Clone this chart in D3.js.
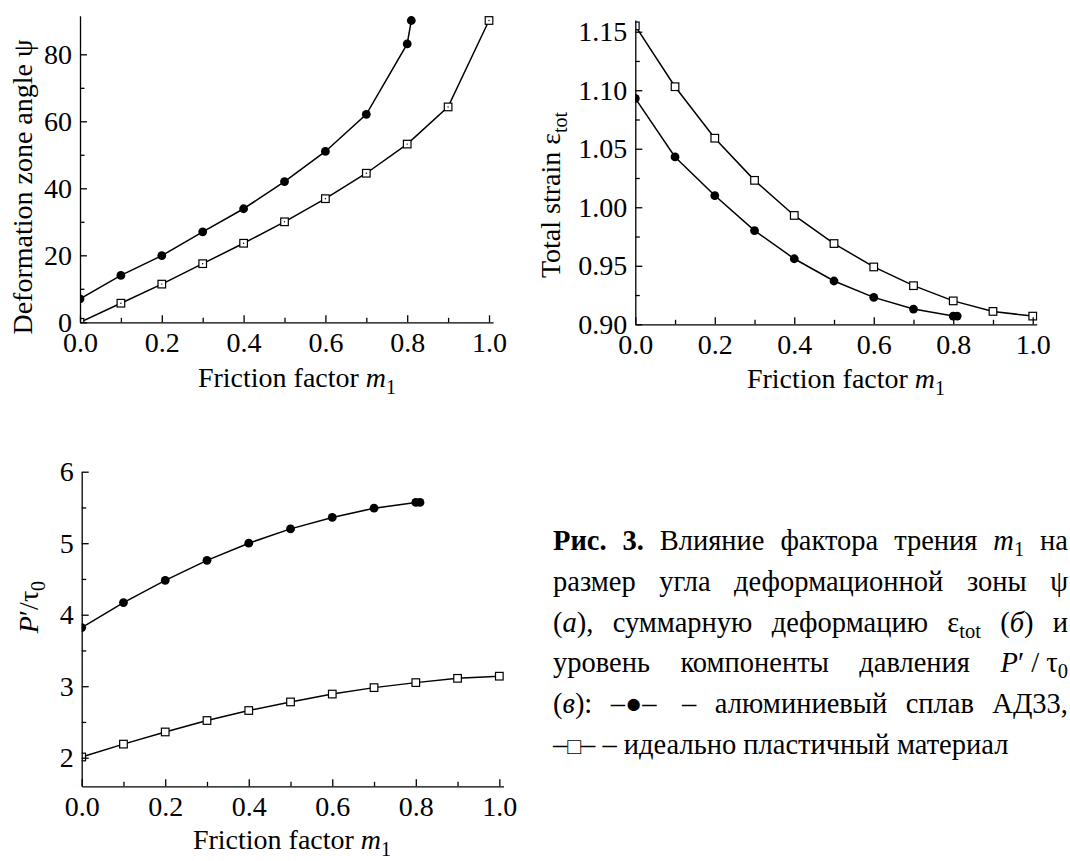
<!DOCTYPE html>
<html>
<head>
<meta charset="utf-8">
<script src="https://cdn.jsdelivr.net/npm/d3@7"></script>
<style>
body { margin: 0; background: #fff; }
</style>
</head>
<body>
<script>
// data: friction factor m1
const mAlloy = [0, 0.1, 0.2, 0.3, 0.4, 0.5, 0.6, 0.7, 0.8, 0.81]
const mIdeal = [0, 0.1, 0.2, 0.3, 0.4, 0.5, 0.6, 0.7, 0.8, 0.9, 1.0]

// (a) deformation zone angle
const psiAlloy = [7.0, 14.0, 19.9, 27.0, 33.9, 42.0, 51.0, 62.1, 83.1, 90.1]
const psiIdeal = [0, 5.7, 11.4, 17.5, 23.6, 30.0, 36.9, 44.5, 53.2, 64.3, 90.1]

// (b) total strain
const strainAlloy = [1.093, 1.043, 1.010, 0.980, 0.956, 0.937, 0.923, 0.913, 0.907, 0.907]
const strainIdeal = [1.155, 1.103, 1.059, 1.023, 0.993, 0.969, 0.949, 0.933, 0.920, 0.911, 0.907]

// (c) pressure component
const pressAlloy = [3.82, 4.17, 4.48, 4.76, 5.00, 5.20, 5.36, 5.49, 5.57, 5.57]
const pressIdeal = [2.01, 2.19, 2.36, 2.52, 2.66, 2.78, 2.89, 2.98, 3.05, 3.11, 3.14]

// ticks
const xTicks = [0, 0.2, 0.4, 0.6, 0.8, 1.0]
const xMinor = [0.1, 0.3, 0.5, 0.7, 0.9]
const psiTicks = [0, 20, 40, 60, 80]
const psiMinor = [10, 30, 50, 70]
const strainTicks = [0.90, 0.95, 1.00, 1.05, 1.10, 1.15]
const strainMinor = [0.925, 0.975, 1.025, 1.075, 1.125]
const pressTicks = [2, 3, 4, 5, 6]
const pressMinor = [2.5, 3.5, 4.5, 5.5]

// caption: #bold#, *italic*, _{sub}, @small symbol@
const captionLines = [
    '#Рис.# #3.# Влияние фактора трения *m*_{1} на',
    'размер угла деформационной зоны ψ',
    '(*а*), суммарную деформацию ε_{tot} (*б*) и',
    'уровень компоненты давления *P*′\u00a0/\u00a0τ_{0}',
    '(*в*): –●– \u00a0– алюминиевый сплав АД33,',
    '–@□@– – идеально пластичный материал'
]

const serif = '"Liberation Serif", "Times New Roman", serif'

const svg = d3.select('body').append('svg')
    .attr('width', 1070)
    .attr('height', 861)
    .style('font-family', serif)

const panels = [
    {
        id: 'a', left: 80, right: 493.1, top: 15.8, bottom: 322.3,
        yDomain: [0, 91.5], yTicks: psiTicks, yMinor: psiMinor, yFormat: d3.format('d'),
        alloy: psiAlloy, ideal: psiIdeal, dotted: true,
        xTitle: [297, 387], yTitle: [32, 187]
    },
    {
        id: 'b', left: 635.3, right: 1036.7, top: 20, bottom: 324.3,
        yDomain: [0.9, 1.16], yTicks: strainTicks, yMinor: strainMinor, yFormat: d3.format('.2f'),
        alloy: strainAlloy, ideal: strainIdeal, dotted: false,
        xTitle: [846, 388], yTitle: [560, 195]
    },
    {
        id: 'c', left: 81.7, right: 503.5, top: 471.7, bottom: 786.3,
        yDomain: [1.6, 6], yTicks: pressTicks, yMinor: pressMinor, yFormat: d3.format('d'),
        alloy: pressAlloy, ideal: pressIdeal, dotted: false,
        xTitle: [292, 849], yTitle: [38, 607]
    }
]

panels.forEach(drawPanel)
drawTitles()
drawCaption()

function drawPanel(p) {
    const x = d3.scaleLinear().domain([0, 1.01]).range([p.left, p.right])
    const y = d3.scaleLinear().domain(p.yDomain).range([p.bottom, p.top])

    // markers at m1 = 0 are cut by the y axis
    svg.append('clipPath')
        .attr('id', `clip-${p.id}`)
        .append('rect')
        .attr('x', p.left)
        .attr('y', p.top - 12)
        .attr('width', p.right - p.left + 20)
        .attr('height', p.bottom - p.top + 12)

    const g = svg.append('g').attr('clip-path', `url(#clip-${p.id})`)

    const line = d3.line()
        .x(d => x(d[0]))
        .y(d => y(d[1]))

    const alloy = d3.zip(mAlloy, p.alloy)
    const ideal = d3.zip(mIdeal, p.ideal)

    for (let pts of [alloy, ideal]) {
        g.append('path')
            .datum(pts)
            .attr('fill', 'none')
            .attr('stroke', '#000')
            .attr('stroke-width', 1.5)
            .attr('d', line)
    }

    g.selectAll('circle.alloy')
        .data(alloy)
        .enter()
        .append('circle')
        .attr('class', 'alloy')
        .attr('cx', d => x(d[0]))
        .attr('cy', d => y(d[1]))
        .attr('r', 4.4)
        .attr('fill', '#000')

    const s = 7.6
    g.selectAll('rect.ideal')
        .data(ideal)
        .enter()
        .append('rect')
        .attr('class', 'ideal')
        .attr('x', d => x(d[0]) - s / 2)
        .attr('y', d => y(d[1]) - s / 2)
        .attr('width', s)
        .attr('height', s)
        .attr('fill', '#fff')
        .attr('stroke', '#000')
        .attr('stroke-width', 1.2)

    if (p.dotted) {
        g.selectAll('circle.dot')
            .data(ideal)
            .enter()
            .append('circle')
            .attr('class', 'dot')
            .attr('cx', d => x(d[0]))
            .attr('cy', d => y(d[1]))
            .attr('r', 0.7)
            .attr('fill', '#000')
    }

    // axes, ticks inside
    const xAxis = d3.axisBottom(x)
        .tickValues(xTicks)
        .tickSize(-7)
        .tickSizeOuter(0)
        .tickPadding(10)
        .tickFormat(d3.format('.1f'))
    const xAxisMinor = d3.axisBottom(x)
        .tickValues(xMinor)
        .tickSize(-4.5)
        .tickFormat('')
    const yAxis = d3.axisLeft(y)
        .tickValues(p.yTicks)
        .tickSize(-7)
        .tickSizeOuter(0)
        .tickPadding(8)
        .tickFormat(p.yFormat)
    const yAxisMinor = d3.axisLeft(y)
        .tickValues(p.yMinor)
        .tickSize(-4.5)
        .tickFormat('')

    const axes = [
        [xAxisMinor, `translate(0,${p.bottom})`, true],
        [yAxisMinor, `translate(${p.left},0)`, true],
        [xAxis, `translate(0,${p.bottom})`, false],
        [yAxis, `translate(${p.left},0)`, false]
    ]
    for (let [axis, tr, minor] of axes) {
        const ag = svg.append('g')
            .attr('transform', tr)
            .call(axis)
        if (minor) ag.select('.domain').remove()
        ag.attr('font-family', null).attr('font-size', null)
        ag.selectAll('path, line')
            .attr('stroke', '#000')
            .attr('stroke-width', 1.3)
        ag.selectAll('text')
            .style('font-family', serif)
            .attr('font-size', 28)
            .attr('fill', '#000')
    }
}

function drawTitles() {
    for (let p of panels) {
        const t = svg.append('text')
            .attr('x', p.xTitle[0])
            .attr('y', p.xTitle[1])
            .attr('text-anchor', 'middle')
            .attr('font-size', 28)
            .style('font-family', serif)
        t.append('tspan').text('Friction factor ')
        t.append('tspan').attr('font-style', 'italic').text('m')
        t.append('tspan').attr('font-size', 20).attr('dy', 7).text('1')
    }

    const yTitle = (p) => svg.append('text')
        .attr('transform', `translate(${p.yTitle[0]},${p.yTitle[1]}) rotate(-90)`)
        .attr('text-anchor', 'middle')
        .attr('font-size', 28)
        .style('font-family', serif)

    yTitle(panels[0]).text('Deformation zone angle ψ')

    const tb = yTitle(panels[1])
    tb.append('tspan').text('Total strain ε')
    tb.append('tspan').attr('font-size', 20).attr('dy', 7).text('tot')

    const tc = yTitle(panels[2])
    tc.append('tspan').attr('font-style', 'italic').text('P')
    tc.append('tspan').text('′/τ')
    tc.append('tspan').attr('font-size', 20).attr('dy', 7).text('0')
}

// caption
function drawCaption() {
    const left = 553
    const right = 1068
    const top = 550
    const lineStep = 40.8
    const fontSize = 28.5

    captionLines.forEach((str, i) => {
        const words = str.split(' ')
        const nodes = words.map(w => {
            const t = svg.append('text')
                .attr('y', top + i * lineStep)
                .attr('font-size', fontSize)
                .style('font-family', serif)
            parseWord(w).forEach(([style, txt]) => {
                const ts = t.append('tspan').text(txt)
                if (style == 'b') ts.attr('font-weight', 'bold')
                if (style == 'i') ts.attr('font-style', 'italic')
                if (style == 'sub') ts.attr('font-size', fontSize * 0.72).attr('dy', 6)
                if (style == 'sym') ts.attr('font-size', fontSize * 0.8)
            })
            return t
        })
        const widths = nodes.map(t => t.node().getComputedTextLength())
        const total = d3.sum(widths)
        let gap = fontSize * 0.25
        if (i < captionLines.length - 1) {
            gap = (right - left - total) / (words.length - 1)
        }
        let cx = left
        nodes.forEach((t, j) => {
            t.attr('x', cx)
            cx += widths[j] + gap
        })
    })
}

function parseWord(w) {
    const parts = []
    const re = /#(.+?)#|\*(.+?)\*|_\{(.+?)\}|@(.+?)@|([^#*_@]+)/g
    let m
    while ((m = re.exec(w)) !== null) {
        if (m[1]) parts.push(['b', m[1]])
        else if (m[2]) parts.push(['i', m[2]])
        else if (m[3]) parts.push(['sub', m[3]])
        else if (m[4]) parts.push(['sym', m[4]])
        else parts.push(['', m[5]])
    }
    return parts
}
</script>
</body>
</html>
